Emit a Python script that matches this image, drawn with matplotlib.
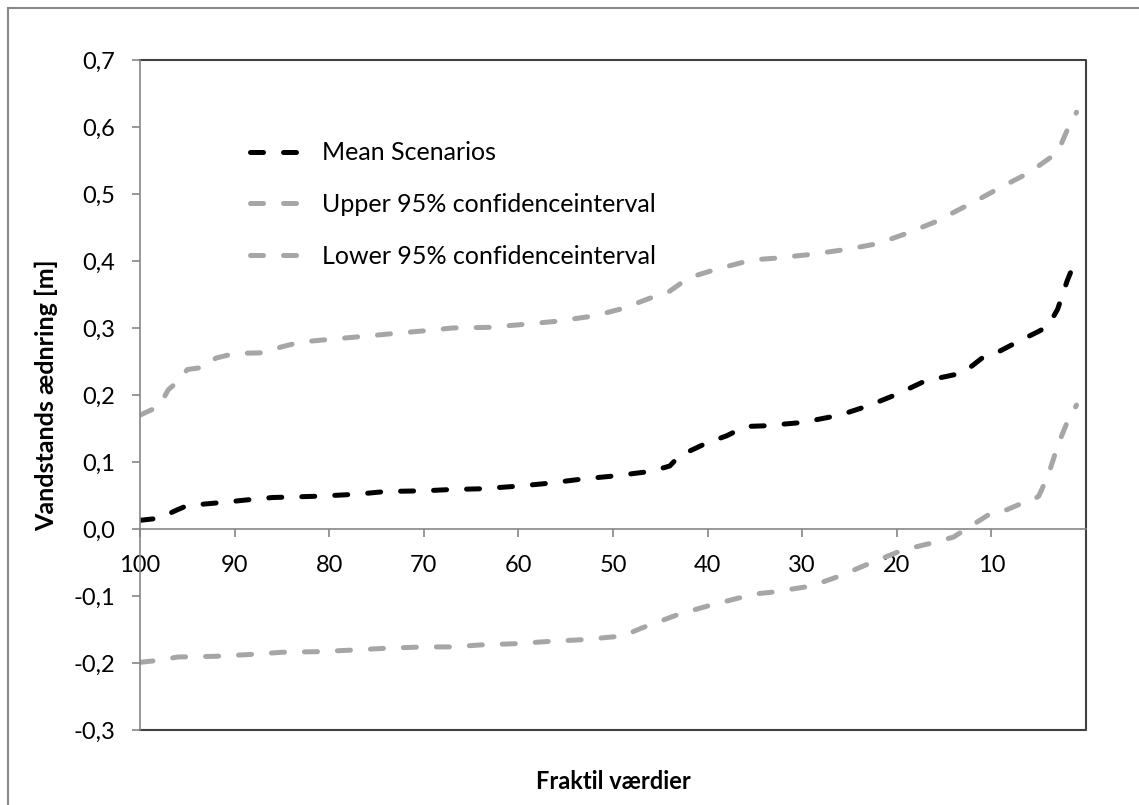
import matplotlib
matplotlib.use('Agg')
import matplotlib.pyplot as plt
from matplotlib.lines import Line2D
from matplotlib.ticker import FuncFormatter

plt.rcParams['font.family'] = ['Lato', 'DejaVu Sans']

# fraktil (x) og vandstandsændring (y)
mean_x = [100, 98, 96, 95, 91, 89, 86, 81, 77, 74, 70, 67, 64, 60, 57, 53, 50, 46, 44, 43,
          40, 38, 36, 34, 30, 26, 23, 20, 17, 13, 11, 10, 7, 5, 4, 3, 2, 1]
mean_y = [0.013, 0.016, 0.029, 0.035, 0.040, 0.043, 0.047, 0.049, 0.052, 0.056, 0.057, 0.059,
          0.060, 0.064, 0.068, 0.075, 0.079, 0.086, 0.094, 0.109, 0.129, 0.139, 0.153, 0.154,
          0.159, 0.170, 0.184, 0.201, 0.221, 0.233, 0.255, 0.259, 0.281, 0.295, 0.303, 0.328,
          0.370, 0.405]

upper_x = [100, 98, 97, 96, 95, 93, 92, 90, 87, 85, 83, 80, 76, 73, 69, 67, 63, 59, 56, 52,
           49, 46, 44, 42, 39, 36, 35, 33, 29, 25, 22, 19, 16, 12, 9, 6, 4, 3, 2, 1]
upper_y = [0.170, 0.183, 0.208, 0.220, 0.238, 0.242, 0.255, 0.262, 0.263, 0.272, 0.279, 0.283,
           0.288, 0.292, 0.297, 0.300, 0.301, 0.306, 0.310, 0.318, 0.329, 0.345, 0.355, 0.375,
           0.388, 0.399, 0.402, 0.404, 0.410, 0.418, 0.426, 0.441, 0.458, 0.487, 0.510, 0.532,
           0.552, 0.562, 0.595, 0.622]

lower_x = [100, 98, 96, 92, 88, 85, 81, 78, 74, 70, 67, 64, 60, 57, 53, 50, 49, 47, 43, 40,
           37, 35, 33, 29, 26, 23, 20, 19, 16, 14, 13, 12, 10, 9, 7, 6, 5, 4, 3, 2, 1]
lower_y = [-0.199, -0.196, -0.191, -0.190, -0.187, -0.184, -0.183, -0.181, -0.178, -0.176,
           -0.176, -0.173, -0.171, -0.168, -0.165, -0.161, -0.160, -0.148, -0.127, -0.115,
           -0.104, -0.097, -0.094, -0.085, -0.070, -0.052, -0.035, -0.030, -0.020, -0.012,
           -0.003, 0.006, 0.024, 0.025, 0.037, 0.040, 0.049, 0.080, 0.124, 0.159, 0.185]

labels = ['Mean Scenarios', 'Upper 95% confidenceinterval', 'Lower 95% confidenceinterval']
x_ticks = [100, 90, 80, 70, 60, 50, 40, 30, 20, 10]
y_ticks = [-0.3, -0.2, -0.1, 0.0, 0.1, 0.2, 0.3, 0.4, 0.5, 0.6, 0.7]

gray = '#a6a6a6'
axis_gray = '#868686'

fig = plt.figure(figsize=(11.39, 8.05), dpi=100)
ax = fig.add_axes([140 / 1139, 1 - 730 / 805, 946 / 1139, 670 / 805])

lw = 3.6
dash = (2.6, 4.0)
ax.plot(mean_x, mean_y, color='black', lw=lw, dashes=dash, dash_capstyle='round',
        solid_joinstyle='round', label=labels[0])
ax.plot(upper_x, upper_y, color=gray, lw=lw, dashes=dash, dash_capstyle='round',
        solid_joinstyle='round', label=labels[1])
ax.plot(lower_x, lower_y, color=gray, lw=lw, dashes=dash, dash_capstyle='round',
        solid_joinstyle='round', label=labels[2])

ax.set_xlim(100, 0)
ax.set_ylim(-0.3, 0.7)
ax.set_xticks(x_ticks)
ax.set_yticks(y_ticks)
ax.yaxis.set_major_formatter(FuncFormatter(lambda v, p: f'{v:.1f}'.replace('.', ',')))

for s in ['top', 'right']:
    ax.spines[s].set_visible(False)
ax.spines['bottom'].set_position(('data', 0))
ax.spines['bottom'].set_color(axis_gray)
ax.spines['left'].set_color(axis_gray)
ax.spines['bottom'].set_linewidth(1.2)
ax.spines['left'].set_linewidth(1.2)

# ramme om plotområdet
ax.add_line(Line2D([0, 1, 1, 0], [1, 1, 0, 0], transform=ax.transAxes, color='#404040',
                   lw=1.5, clip_on=False))

ax.tick_params(axis='both', direction='out', length=6, width=1.2, color=axis_gray,
               labelsize=17, labelcolor='black')
ax.tick_params(axis='x', pad=13)
ax.tick_params(axis='y', pad=12)

ax.set_xlabel('Fraktil værdier', fontsize=17, fontweight='bold')
ax.xaxis.set_label_coords(0.5, -0.06)
ax.set_ylabel('Vandstands ædnring [m]', fontsize=18, fontweight='bold')
ax.yaxis.set_label_coords(-0.087, 0.5)

ax.legend(loc='upper left', bbox_to_anchor=(0.093, 0.912), frameon=False, fontsize=18,
          handlelength=2.3, handletextpad=0.55, labelspacing=1.15)

# ydre ramme
fig.add_artist(Line2D([8 / 1139, 8 / 1139], [0, 1 - 8 / 805], transform=fig.transFigure,
                      color='#898989', lw=1.5))
fig.add_artist(Line2D([8 / 1139, 1], [1 - 8 / 805, 1 - 8 / 805], transform=fig.transFigure,
                      color='#898989', lw=1.5))

fig.savefig('out.png', dpi=100)
